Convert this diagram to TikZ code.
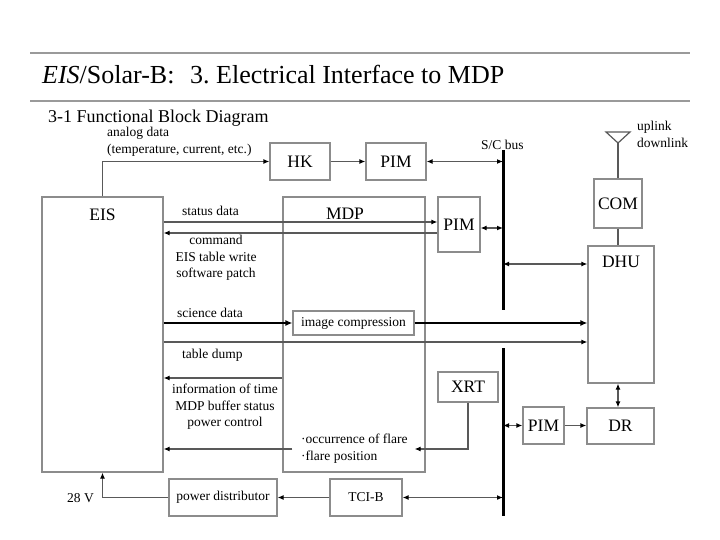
\documentclass[tikz,border=0pt]{standalone}
\usepackage{fontspec}
\setmainfont{Liberation Serif}
\usetikzlibrary{arrows.meta}
\definecolor{boxgray}{HTML}{8C8C8C}
\definecolor{linegray}{HTML}{595959}
\definecolor{rulegray}{HTML}{9A9A9A}
\newcommand{\titlesz}{\fontsize{26}{30}\selectfont}
\newcommand{\subsz}{\fontsize{18}{21}\selectfont}
\newcommand{\blksz}{\fontsize{17.5}{20}\selectfont}
\newcommand{\smallsz}{\fontsize{13.5}{16.5}\selectfont}
\frenchspacing

\begin{document}
\begin{tikzpicture}[x=1pt,y=-1pt,
  blk/.style={draw=boxgray, line width=1.2pt, inner sep=0pt, font=\blksz},
  lbl/.style={font=\smallsz, inner sep=0pt},
  con/.style={draw=linegray, line width=1.2pt},
  arr/.style={con, -{Latex[length=6pt,width=5pt,color=black]}},
  dbl/.style={con, {Latex[length=6pt,width=5pt,color=black]}-{Latex[length=6pt,width=5pt,color=black]}},
  thk/.style={draw=black, line width=2.4pt, -{Latex[length=7pt,width=6pt]}},
  bus/.style={draw=black, line width=3pt},
  rule/.style={draw=rulegray, line width=2.5pt}]
\useasboundingbox (0,0) rectangle (720,540);

\draw[rule] (30,53) -- (690,53);
\draw[rule] (30,101) -- (690,101);
\node[anchor=base west, font=\titlesz, inner sep=0pt] (ttlA) at (42,84) {\textit{EIS}/Solar-B:};
\node[anchor=base west, font=\titlesz, inner sep=0pt] (ttlB) at (190,84) {3. Electrical Interface to MDP};
\node[anchor=base west, font=\subsz, inner sep=0pt] (sub) at (48,123) {3-1 Functional Block Diagram};

\node[blk, minimum width=121pt, minimum height=275pt] (eis) at (102.5,334.5) {};
\node[font=\blksz] (eisL) at (102.5,215) {EIS};
\node[blk, minimum width=142pt, minimum height=275pt] (mdp) at (354,334.5) {};
\node[font=\blksz] (mdpL) at (345,214) {MDP};
\node[blk, minimum width=60pt, minimum height=37pt] (hk) at (300,161.5) {HK};
\node[blk, minimum width=60pt, minimum height=37pt] (pimT) at (396,161.5) {PIM};
\node[blk, minimum width=42pt, minimum height=55pt] (pimM) at (459,224.5) {PIM};
\node[blk, minimum width=48pt, minimum height=49pt] (com) at (618,203.5) {COM};
\node[blk, minimum width=66pt, minimum height=137pt] (dhu) at (621,314.5) {};
\node[font=\blksz] (dhuL) at (621,262) {DHU};
\node[blk, font=\smallsz, minimum width=121pt, minimum height=24pt] (imgc) at (353.5,323) {image compression};
\node[blk, minimum width=60pt, minimum height=30pt] (xrt) at (468,387) {XRT};
\node[blk, minimum width=41pt, minimum height=37pt] (pimB) at (543.5,425.5) {PIM};
\node[blk, minimum width=67pt, minimum height=36pt] (dr) at (620.5,426) {DR};
\node[blk, font=\smallsz, minimum width=108pt, minimum height=37pt] (pwr) at (223,497.5) {power distributor};
\node[blk, font=\smallsz, minimum width=72pt, minimum height=37pt] (tci) at (366,497.5) {TCI-B};

\coordinate (busA) at (503,150);
\coordinate (busB) at (503,310);
\coordinate (busC) at (503,348);
\coordinate (busD) at (503,516);
\draw[bus] (busA) -- (busB) (busC) -- (busD);

\coordinate (ant) at (618,143);
\draw[con] (606,132) -- (630,132) -- (ant) -- cycle;
\draw[con] (ant) -- (com.north);
\draw[con] (com.south) -- (com.south |- dhu.north);

\draw[arr] (eis.north) |- (hk.west);
\draw[arr] (hk) -- (pimT);
\draw[dbl] (pimT.east) -- (pimT.east -| busA);
\draw[arr] (eis.east |- 0,222) -- (pimM.west |- 0,222);
\draw[arr] (pimM.west |- 0,233) -- (eis.east |- 0,233);
\draw[dbl] (pimM.east |- 0,228) -- (busA |- 0,228);
\draw[dbl] (busA |- 0,264) -- (dhu.west |- 0,264);
\draw[thk] (eis.east |- imgc) -- (imgc.west);
\draw[thk] (imgc.east) -- (dhu.west |- imgc);
\draw[arr] (eis.east |- 0,342) -- (dhu.west |- 0,342);
\draw[arr] (mdp.west |- 0,378) -- (eis.east |- 0,378);
\draw[arr] (imgc.west |- 0,449) -- (eis.east |- 0,449);
\draw[arr] (xrt.south) |- (imgc.east |- 0,449);
\draw[dbl] (busA |- pimB) -- (pimB.west);
\draw[arr] (pimB.east) -- (pimB.east -| dr.west);
\draw[dbl] (com.south |- dhu.south) -- (com.south |- dr.north);
\draw[arr] (tci) -- (pwr);
\draw[arr] (pwr.west) -| (eis.south);
\draw[dbl] (tci.east) -- (tci.east -| busA);

\node[lbl, anchor=west] (anaL) at (107,133) {analog data};
\node[lbl, anchor=west] (tmpL) at (107,150) {(temperature, current, etc.)};
\node[lbl, anchor=west] (busL) at (481,145) {S/C bus};
\node[lbl, anchor=west] (upL) at (637,127) {uplink};
\node[lbl, anchor=west] (dnL) at (637,143) {downlink};
\node[lbl, anchor=west] (stL) at (182,211) {status data};
\node[lbl, align=center] (cmdL) at (216,258) {command\\EIS table write\\software patch};
\node[lbl, anchor=west] (sciL) at (177,313) {science data};
\node[lbl, anchor=west] (tdL) at (182,355) {table dump};
\node[lbl, align=center] (infL) at (225,407) {information of time\\MDP buffer status\\power control};
\node[lbl, align=left, anchor=west] (flL) at (301,448.5) {·occurrence of flare\\·flare position};
\node[lbl, anchor=east] (vL) at (94,498) {28 V};
\end{tikzpicture}
\end{document}
